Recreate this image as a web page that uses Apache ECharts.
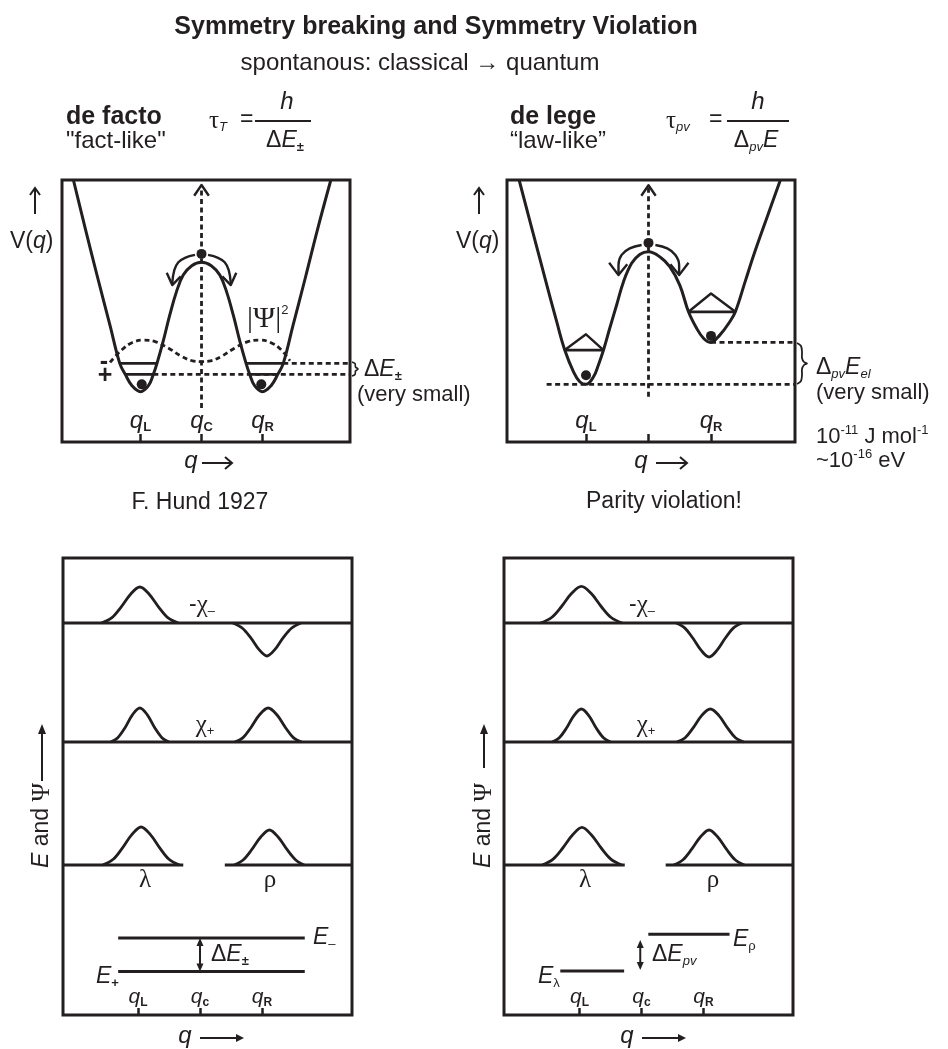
<!DOCTYPE html>
<html><head><meta charset="utf-8">
<script src="https://cdn.jsdelivr.net/npm/echarts@6/dist/echarts.min.js"></script>
<style>html,body{margin:0;padding:0;background:#fff}#c{width:948px;height:1049px}</style>
</head><body><div id="c"></div>
<script>
// ================= DATA =================
// x: coordinate q in units where qL = -1, qC = 0, qR = +1 ; y: V (top panels) or E/Psi (bottom panels)
const tickQ = [-1, 0, 1];
const tickLabelsSym = [-1, 0, 1];
const tickLabelsAsym = [-1, 1];

// --- top-left: symmetric double well ---
const potSym = [[-2.10,10.0],[-1.90,8.1],[-1.70,6.25],[-1.50,4.45],[-1.34,3.0],[-1.25,2.58],[-1.14,2.15],[-1.00,1.92],[-0.87,2.15],[-0.79,2.58],[-0.73,3.0],[-0.63,3.83],[-0.52,4.85],[-0.41,5.74],[-0.30,6.37],[-0.16,6.73],[0,6.86],[0.16,6.73],[0.30,6.37],[0.41,5.74],[0.52,4.85],[0.63,3.83],[0.73,3.0],[0.79,2.58],[0.87,2.15],[1.00,1.92],[1.14,2.15],[1.25,2.58],[1.34,3.0],[1.50,4.45],[1.70,6.25],[1.90,8.1],[2.12,10.0]];
const psiSq = [[-1.50,3.04],[-1.31,3.51],[-1.14,3.79],[-0.95,3.89],[-0.76,3.83],[-0.54,3.58],[-0.32,3.26],[-0.15,3.10],[0,3.07],[0.15,3.10],[0.32,3.26],[0.54,3.58],[0.76,3.83],[0.95,3.89],[1.14,3.79],[1.31,3.51],[1.45,3.10]];
const levelsSym = [[[-1.34,3.0],[-0.73,3.0]],[[-1.25,2.58],[-0.79,2.58]],[[0.73,3.0],[1.34,3.0]],[[0.79,2.58],[1.25,2.58]]];
const dashSym = [[[1.34,3.0],[2.43,3.0]],[[-0.79,2.58],[2.43,2.58]],[[0,1.3],[0,9.75]]];
const ballsSym = [[0,7.18],[-0.98,2.2],[0.98,2.2]];
const arcsSym = [[[-0.107,7.14],[-0.27,7.03],[-0.38,6.86],[-0.446,6.56],[-0.48,6.06]],[[0.107,7.14],[0.27,7.03],[0.38,6.86],[0.446,6.56],[0.48,6.06]]];
const headsSym = [[[-0.57,6.46],[-0.48,5.99],[-0.34,6.32]],[[0.57,6.46],[0.48,5.99],[0.34,6.32]],[[-0.12,9.40],[0,9.81],[0.12,9.40]]];

// --- top-right: asymmetric double well ---
const potAsym = [[-2.07,10.0],[-1.85,8.0],[-1.65,6.2],[-1.47,4.6],[-1.34,3.51],[-1.20,2.68],[-1.10,2.30],[-1.00,2.20],[-0.88,2.49],[-0.80,2.95],[-0.72,3.51],[-0.62,4.34],[-0.51,5.23],[-0.40,6.12],[-0.27,6.82],[-0.14,7.16],[0,7.26],[0.18,7.07],[0.34,6.69],[0.50,5.99],[0.64,4.97],[0.77,4.34],[0.88,3.96],[0.99,3.80],[1.14,4.08],[1.30,4.59],[1.39,4.97],[1.55,6.15],[1.70,7.25],[1.90,8.6],[2.11,10.0]];
const levelsAsym = [[[-1.34,3.51],[-0.72,3.51]],[[0.64,4.97],[1.39,4.97]]];
const hatsAsym = [[[-1.34,3.51],[-1.0,4.11],[-0.72,3.51]],[[0.64,4.97],[1.0,5.67],[1.39,4.97]]];
const dashAsym = [[[-1.63,2.2],[2.34,2.2]],[[1.0,3.8],[2.34,3.8]],[[0,1.73],[0,9.75]]];
const ballsAsym = [[0,7.6],[-1.0,2.55],[1.0,4.05]];
const arcsAsym = [[[-0.11,7.52],[-0.30,7.39],[-0.43,7.14],[-0.48,6.76],[-0.48,6.44]],[[0.11,7.52],[0.30,7.39],[0.43,7.14],[0.49,6.76],[0.49,6.44]]];
const headsAsym = [[[-0.63,6.84],[-0.48,6.37],[-0.34,6.78]],[[0.64,6.84],[0.49,6.37],[0.35,6.78]],[[-0.115,9.40],[0,9.8],[0.115,9.40]]];

// --- bottom-left: wavefunctions, symmetric case ---
const baseL = [[[-2.21,39.2],[2.45,39.2]],[[-2.21,27.3],[2.45,27.3]],[[-2.21,15.0],[-0.27,15.0]],[[0.40,15.0],[2.45,15.0]]];
const bumpsL = [
  [[-1.59,39.2],[-1.42,39.74],[-1.27,40.82],[-1.12,42.08],[-0.97,42.8],[-0.82,42.08],[-0.67,40.82],[-0.52,39.74],[-0.35,39.2]],
  [[0.53,39.2],[0.68,38.7],[0.82,37.71],[0.95,36.56],[1.08,35.9],[1.21,36.56],[1.34,37.71],[1.48,38.7],[1.63,39.2]],
  [[-1.44,27.3],[-1.33,27.71],[-1.21,28.73],[-1.09,30.02],[-0.97,30.7],[-0.85,30.02],[-0.73,28.73],[-0.61,27.71],[-0.50,27.3]],
  [[0.56,27.3],[0.69,27.71],[0.82,28.73],[0.96,30.02],[1.10,30.7],[1.24,30.02],[1.38,28.73],[1.51,27.71],[1.64,27.3]],
  [[-1.57,15],[-1.40,15.57],[-1.25,16.71],[-1.10,18.04],[-0.95,18.8],[-0.80,18.04],[-0.65,16.71],[-0.50,15.57],[-0.33,15]],
  [[0.55,15],[0.70,15.53],[0.84,16.58],[0.98,17.8],[1.12,18.5],[1.26,17.8],[1.40,16.58],[1.54,15.53],[1.68,15]]
];
const levelsL = [[[-1.32,7.7],[1.69,7.7]],[[-1.32,4.35],[1.69,4.35]]];
const arrowL = [[0,7.3],[0,4.75]];

// --- bottom-right: wavefunctions, parity-violating case ---
const baseR = [[[-2.22,39.2],[2.45,39.2]],[[-2.22,27.3],[2.45,27.3]],[[-2.22,15.0],[-0.27,15.0]],[[0.39,15.0],[2.45,15.0]]];
const bumpsR = [
  [[-1.63,39.2],[-1.45,39.75],[-1.29,40.85],[-1.13,42.14],[-0.97,42.87],[-0.81,42.14],[-0.65,40.85],[-0.49,39.75],[-0.31,39.2]],
  [[0.56,39.2],[0.70,38.69],[0.83,37.67],[0.96,36.48],[1.09,35.8],[1.22,36.48],[1.35,37.67],[1.48,38.69],[1.62,39.2]],
  [[-1.44,27.3],[-1.33,27.7],[-1.21,28.69],[-1.09,29.94],[-0.97,30.6],[-0.85,29.94],[-0.73,28.69],[-0.61,27.7],[-0.50,27.3]],
  [[0.57,27.3],[0.70,27.7],[0.83,28.69],[0.97,29.94],[1.11,30.6],[1.25,29.94],[1.39,28.69],[1.52,27.7],[1.65,27.3]],
  [[-1.60,15],[-1.43,15.57],[-1.27,16.7],[-1.11,18.02],[-0.96,18.77],[-0.81,18.02],[-0.65,16.7],[-0.49,15.57],[-0.32,15]],
  [[0.52,15],[0.67,15.53],[0.81,16.58],[0.95,17.8],[1.09,18.5],[1.23,17.8],[1.37,16.58],[1.51,15.53],[1.66,15]]
];
const levelsR = [[[0.11,8.07],[1.42,8.07]],[[-1.31,4.4],[-0.28,4.4]]];
const arrowR = [[-0.02,7.1],[-0.02,4.9]];

// ================= RENDERING =================
const F = 'Liberation Sans', SF = 'Liberation Serif', INK = '#231f20';
const chart = echarts.init(document.getElementById('c'), null, {renderer:'canvas'});

function line(gi, data, o) {
  o = o || {};
  return {type:'line', xAxisIndex:gi, yAxisIndex:gi, data:data, symbol:'none', silent:true,
    smooth:o.smooth || false, z:o.z || 3,
    lineStyle:{color:INK, width:o.w || 2.8, type:o.dash ? [5,3.5] : 'solid', cap:'butt', join:'round', opacity:1}};
}
function balls(gi, data) {
  return {type:'scatter', xAxisIndex:gi, yAxisIndex:gi, data:data, symbol:'circle', symbolSize:10, silent:true, z:5, itemStyle:{color:INK, opacity:1}};
}
function tri(gi, pt, rot) {
  return {type:'scatter', xAxisIndex:gi, yAxisIndex:gi, data:[pt], symbol:'triangle', symbolSize:[7,8], symbolRotate:rot, silent:true, z:5, itemStyle:{color:INK, opacity:1}};
}
function xa(gi, min, max, labelVals, subs, qs, ss, tl, margin) {
  return {type:'value', gridIndex:gi, min:min, max:max, position:'bottom',
    axisLine:{show:false}, splitLine:{show:false},
    axisTick:{show:true, inside:true, length:tl, customValues:tickQ, lineStyle:{color:INK, width:2.5}},
    axisLabel:{show:true, inside:true, margin:margin, customValues:labelVals,
      formatter:function(v){ return '{q|q}{s|' + subs[String(v)] + '}'; },
      rich:{q:{fontFamily:F, fontStyle:'italic', fontSize:qs, color:INK, lineHeight:qs+2},
            s:{fontFamily:F, fontWeight:'bold', fontSize:ss, color:INK, lineHeight:4, verticalAlign:'bottom'}}}};
}
function ya(gi, min, max) { return {type:'value', gridIndex:gi, min:min, max:max, show:false}; }
const gridBase = {show:true, borderColor:INK, borderWidth:3, backgroundColor:'transparent'};

const series = [];
// top-left
series.push(line(0, potSym, {smooth:0.4, w:3}));
series.push(line(0, psiSq, {smooth:0.4, dash:true}));
levelsSym.forEach(s => series.push(line(0, s)));
dashSym.forEach(s => series.push(line(0, s, {dash:true, z:2})));
arcsSym.forEach(s => series.push(line(0, s, {smooth:0.4, w:2.4})));
headsSym.forEach(s => series.push(line(0, s, {w:2.4})));
series.push(balls(0, ballsSym));
// top-right
series.push(line(1, potAsym, {smooth:0.4, w:3}));
levelsAsym.forEach(s => series.push(line(1, s)));
hatsAsym.forEach(s => series.push(line(1, s, {w:2.4})));
dashAsym.forEach(s => series.push(line(1, s, {dash:true, z:2})));
arcsAsym.forEach(s => series.push(line(1, s, {smooth:0.4, w:2.4})));
headsAsym.forEach(s => series.push(line(1, s, {w:2.4})));
series.push(balls(1, ballsAsym));
// bottom-left
baseL.forEach(s => series.push(line(2, s, {w:3})));
bumpsL.forEach(s => series.push(line(2, s, {smooth:0.35})));
levelsL.forEach(s => series.push(line(2, s, {w:3})));
series.push(line(2, arrowL, {w:2}));
series.push(tri(2, arrowL[0], 0));
series.push(tri(2, arrowL[1], 180));
// bottom-right
baseR.forEach(s => series.push(line(3, s, {w:3})));
bumpsR.forEach(s => series.push(line(3, s, {smooth:0.35})));
levelsR.forEach(s => series.push(line(3, s, {w:3})));
series.push(line(3, arrowR, {w:2}));
series.push(tri(3, arrowR[0], 0));
series.push(tri(3, arrowR[1], 180));

// ---- text / annotation helpers ----
function sty(o){ return Object.assign({fontFamily:F, fontSize:23, fill:INK, lineHeight:26}, o); }
const RICH = {
  n: sty({}),
  n22: sty({fontSize:22}),
  i: sty({fontStyle:'italic'}),
  i24: sty({fontStyle:'italic', fontSize:24}),
  B: sty({fontSize:25, fontWeight:'bold', lineHeight:28}),
  N: sty({fontSize:24, lineHeight:28}),
  g: sty({fontFamily:SF, fontSize:25}),
  gi: sty({fontFamily:SF, fontSize:25, fontStyle:'italic'}),
  bar: sty({fontFamily:SF, fontSize:30, lineHeight:30}),
  sb: sty({fontSize:13, lineHeight:6, verticalAlign:'bottom'}),
  sbb: sty({fontSize:13, fontWeight:'bold', lineHeight:6, verticalAlign:'bottom'}),
  sbi: sty({fontSize:13, fontStyle:'italic', lineHeight:6, verticalAlign:'bottom'}),
  sp: sty({fontSize:13, lineHeight:6, verticalAlign:'top'}),
  spb: sty({fontSize:14, lineHeight:4, verticalAlign:'top'})
};
function txt(x, y, text, align, extra) {
  return Object.assign({type:'text', x:x, y:y, z:10, silent:true,
    style:{text:text, rich:RICH, fill:INK, fontFamily:F, fontSize:23, align:align || 'left', verticalAlign:'middle'}}, extra || {});
}
function gl(x1,y1,x2,y2,w){ return {type:'line', z:10, silent:true, shape:{x1:x1,y1:y1,x2:x2,y2:y2}, style:{stroke:INK, lineWidth:w || 2}}; }
function gpl(points,w,smooth){ return {type:'polyline', z:10, silent:true, shape:{points:points, smooth:smooth || 0}, style:{stroke:INK, lineWidth:w || 2, fill:null}}; }
function gtri(points){ return {type:'polygon', z:10, silent:true, shape:{points:points}, style:{fill:INK}}; }

const G = [];
// titles
G.push(txt(436, 27, 'Symmetry breaking and Symmetry Violation', 'center', {style:{text:'Symmetry breaking and Symmetry Violation', fill:INK, fontFamily:F, fontSize:25, fontWeight:'bold', align:'center', verticalAlign:'middle'}}));
G.push(txt(420, 63, '{N|spontanous: classical \u2192 quantum}', 'center'));
G.push(txt(66, 117, '{B|de facto}'));
G.push(txt(66, 141, '{N|"fact-like"}'));
G.push(txt(510, 117, '{B|de lege}'));
G.push(txt(510, 141, '{N|\u201claw-like\u201d}'));
// formulas
G.push(txt(209, 121, '{g|\u03c4}{sbi|T}'));
G.push(txt(240, 120, '{n|=}'));
G.push(gl(255, 121, 311, 121, 1.8));
G.push(txt(287, 102, '{i24|h}', 'center'));
G.push(txt(285, 141, '{n|\u0394}{i|E}{sbb|\u00b1}', 'center'));
G.push(txt(666, 121, '{g|\u03c4}{sbi|pv}'));
G.push(txt(709, 120, '{n|=}'));
G.push(gl(727, 121, 789, 121, 1.8));
G.push(txt(758, 102, '{i24|h}', 'center'));
G.push(txt(756, 141, '{n|\u0394}{sbi|pv}{i|E}', 'center'));
// top-left panel annotations
G.push(gl(35, 214, 35, 189, 2)); G.push(gpl([[30,195],[35,188],[40,195]], 2));
G.push(txt(10, 242, '{n|V(}{i|q}{n|)}'));
G.push(txt(247, 319, '{bar||\u03a8|}{sp|2}'));
G.push(txt(104, 362, '{B|-}', 'center'));
G.push(txt(105, 376, '{B|+}', 'center'));
G.push(gpl([[352,362],[355,363.5],[355.5,367],[358,369],[355.5,371],[355,374.5],[352,376]], 1.6, 0.3));
G.push(txt(364, 370, '{n|\u0394}{i|E}{sbb|\u00b1}'));
G.push(txt(357, 395, '{n22|(very small)}'));
G.push(txt(191, 461, '{i24|q}', 'center'));
G.push(gl(202, 463, 231, 463, 2)); G.push(gpl([[225,457],[232,463],[225,469]], 2));
G.push(txt(200, 503, '{n|F. Hund 1927}', 'center'));
// top-right panel annotations
G.push(gl(479, 214, 479, 189, 2)); G.push(gpl([[474,195],[479,188],[484,195]], 2));
G.push(txt(456, 242, '{n|V(}{i|q}{n|)}'));
G.push(gpl([[797,343],[801,346],[802,352],[802,358],[804,362],[807,363.5],[804,365],[802,369],[802,375],[801,381],[797,384]], 1.8, 0.3));
G.push(txt(816, 368, '{n|\u0394}{sbi|pv}{i|E}{sbi|el}'));
G.push(txt(816, 393, '{n22|(very small)}'));
G.push(txt(816, 437, '{n22|10}{sp|-11}{n22| J mol}{sp|-1}'));
G.push(txt(816, 461, '{n22|~10}{sp|-16}{n22| eV}'));
G.push(txt(641, 461, '{i24|q}', 'center'));
G.push(gl(656, 463, 686, 463, 2)); G.push(gpl([[680,457],[687,463],[680,469]], 2));
G.push(txt(664, 502, '{n|Parity violation!}', 'center'));
// bottom-left panel annotations
G.push(txt(42, 868, '{i|E}{n| and }{g|\u03a8}', 'left', {rotation:Math.PI/2}));
G.push(gl(42, 781, 42, 731, 2)); G.push(gtri([[38,734],[42,724],[46,734]]));
G.push(txt(202, 605, '{n|-}{g|\u03c7}{sb|\u2013}', 'center'));
G.push(txt(205, 725, '{g|\u03c7}{sb|+}', 'center'));
G.push(txt(145, 880, '{g|\u03bb}', 'center'));
G.push(txt(270, 880, '{g|\u03c1}', 'center'));
G.push(txt(313, 938, '{i|E}{sb|\u2013}'));
G.push(txt(96, 977, '{i|E}{sbb|+}'));
G.push(txt(211, 955, '{n|\u0394}{i|E}{sbb|\u00b1}'));
G.push(txt(185, 1036, '{i24|q}', 'center'));
G.push(gl(200, 1038, 238, 1038, 2)); G.push(gtri([[236,1034],[244,1038],[236,1042]]));
// bottom-right panel annotations
G.push(txt(484, 868, '{i|E}{n| and }{g|\u03a8}', 'left', {rotation:Math.PI/2}));
G.push(gl(484, 768, 484, 731, 2)); G.push(gtri([[480,734],[484,724],[488,734]]));
G.push(txt(642, 605, '{n|-}{g|\u03c7}{sb|\u2013}', 'center'));
G.push(txt(646, 725, '{g|\u03c7}{sb|+}', 'center'));
G.push(txt(585, 880, '{g|\u03bb}', 'center'));
G.push(txt(713, 880, '{g|\u03c1}', 'center'));
G.push(txt(733, 940, '{i|E}{sb|\u03c1}'));
G.push(txt(538, 977, '{i|E}{sb|\u03bb}'));
G.push(txt(652, 955, '{n|\u0394}{i|E}{sbi|pv}'));
G.push(txt(627, 1036, '{i24|q}', 'center'));
G.push(gl(642, 1038, 680, 1038, 2)); G.push(gtri([[678,1034],[686,1038],[678,1042]]));

const option = {
  animation:false,
  backgroundColor:'#ffffff',
  grid:[
    Object.assign({left:62, top:180, width:288, height:262}, gridBase),
    Object.assign({left:507, top:180, width:288, height:262}, gridBase),
    Object.assign({left:63, top:558, width:289, height:457}, gridBase),
    Object.assign({left:504, top:558, width:289, height:457}, gridBase)
  ],
  xAxis:[
    xa(0, -2.287, 2.434, tickLabelsSym, {'-1':'L','0':'C','1':'R'}, 24, 13, 8, 8),
    xa(1, -2.264, 2.344, tickLabelsAsym, {'-1':'L','1':'R'}, 24, 13, 8, 8),
    xa(2, -2.210, 2.452, tickLabelsSym, {'-1':'L','0':'c','1':'R'}, 21, 12, 7, 6),
    xa(3, -2.218, 2.444, tickLabelsSym, {'-1':'L','0':'c','1':'R'}, 21, 12, 7, 6)
  ],
  yAxis:[ya(0,0,10), ya(1,0,10), ya(2,0,45.7), ya(3,0,45.7)],
  series:series,
  graphic:{elements:G}
};
chart.setOption(option);
</script></body></html>
